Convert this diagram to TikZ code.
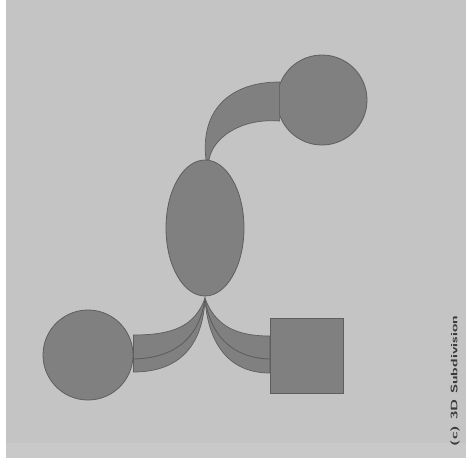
\documentclass[tikz,border=0pt]{standalone}
\usetikzlibrary{shapes.geometric,calc}
\definecolor{bggray}{HTML}{C4C4C4}
\definecolor{bandgray}{HTML}{C9C9C9}
\definecolor{shapegray}{HTML}{808080}
\definecolor{edgegray}{HTML}{5E5E5E}
\definecolor{textgray}{HTML}{3A3A3A}
\tikzset{
  blob/.style={fill=shapegray,draw=edgegray,line width=0.8pt,inner sep=0pt},
  tube/.style={fill=shapegray,draw=edgegray,line width=0.7pt},
  seam/.style={draw=edgegray,line width=0.9pt}
}
\begin{document}
\begin{tikzpicture}[x=1pt,y=-1pt]
\useasboundingbox (0,0) rectangle (466,458);
\fill[white] (0,0) rectangle (466,458);
\fill[bggray] (6,0) rectangle (466,458);
\fill[bandgray] (6,443) rectangle (466,458);

% nodes
\node[blob,circle,minimum size=90pt] (ctop) at (322,100) {};
\node[blob,ellipse,minimum width=78pt,minimum height=136pt] (mid) at (205,228) {};
\node[blob,circle,minimum size=90pt] (cleft) at (88,355) {};
\node[blob,rectangle,minimum width=73pt,minimum height=75pt] (sq) at (306.5,355.5) {};

% named end points of the tubes
\coordinate (tA) at ($(mid.north)+(1,0)$);
\coordinate (tA2) at ($(mid.north)+(4,0)$);
\coordinate (tB) at ($(ctop.west)+(3,-18)$);
\coordinate (tC) at ($(ctop.west)+(3,21)$);
\coordinate (bA) at ($(mid.south)+(0,2)$);
\coordinate (lU) at ($(cleft.east)+(0,-20)$);
\coordinate (lM) at ($(cleft.east)+(0,4)$);
\coordinate (lL) at ($(cleft.east)+(0,17)$);
\coordinate (rU) at ($(sq.west)+(0,-19.5)$);
\coordinate (rM) at ($(sq.west)+(0,3.5)$);
\coordinate (rL) at ($(sq.west)+(0,17.5)$);

% top tube
\draw[tube] (tA) .. controls (200,110) and (230,82) .. (tB)
  -- (tC) .. controls (240,118) and (213,138) .. (tA2) -- cycle;

% left tube
\draw[tube] (bA) .. controls (195,325) and (175,335) .. (lU)
  -- (lL) .. controls (180,372) and (203,345) .. (bA) -- cycle;
\draw[seam] (lM) .. controls (178,358) and (200,335) .. (bA);

% right tube
\draw[tube] (bA) .. controls (215,325) and (235,336) .. (rU)
  -- (rL) .. controls (230,373) and (208,345) .. (bA) -- cycle;
\draw[seam] (rM) .. controls (232,358) and (210,335) .. (bA);

% caption
\node[rotate=90,text=textgray,inner sep=0pt] (cap) at (455,381)
  {\resizebox{130pt}{7pt}{\sffamily\bfseries (c) 3D Subdivision}};
\end{tikzpicture}
\end{document}
